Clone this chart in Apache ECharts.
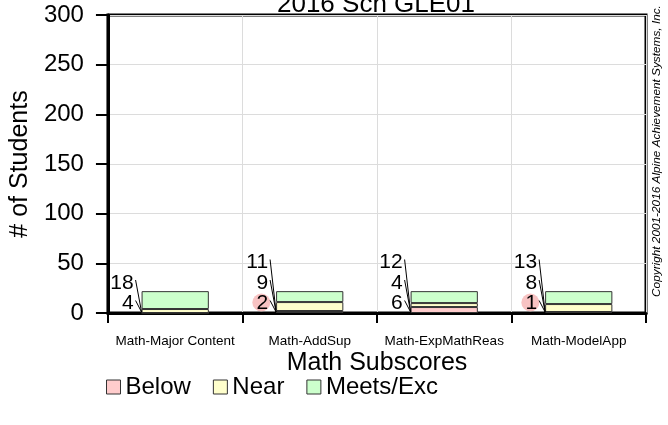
<!DOCTYPE html>
<html>
<head>
<meta charset="utf-8">
<script src="https://cdn.jsdelivr.net/npm/echarts@6/dist/echarts.min.js"></script>
<style>
  html, body { margin: 0; padding: 0; background: #fff; }
  #chart { width: 668px; height: 425px; }
</style>
</head>
<body>
<div id="chart"></div>
<script>
// Subscore categories and student counts per performance band
const categories = ['Math-Major Content', 'Math-AddSup', 'Math-ExpMathReas', 'Math-ModelApp'];
const below = [0, 2, 6, 1];
const near = [4, 9, 4, 8];
const meets = [18, 11, 12, 13];
// Categories whose "Below" count gets a highlight dot
const belowFlag = [false, true, false, true];
const yTicks = [0, 50, 100, 150, 200, 250, 300];

const FONT = 'Liberation Sans, Arial, sans-serif';
const chart = echarts.init(document.getElementById('chart'), null, { renderer: 'canvas' });

// Stacked value labels drawn to the left of each bar with leader lines
function renderLabels(params, api) {
  const i = api.value(0);
  const base = api.coord([i, 0]);
  const bandW = api.size([1, 0])[0];
  const left = base[0] - bandW * 0.25;
  const vals = [below[i], near[i], meets[i]];
  const children = [];
  let k = 0;
  vals.forEach(function (v, s) {
    if (!v) return;
    const cy = base[1] - 10.5 - 20.5 * k;
    if (s === 0 && belowFlag[i]) {
      const w = String(v).length * 11.5;
      children.push({
        type: 'circle',
        shape: { cx: left - 9 - w / 2, cy: cy, r: 9 },
        style: { fill: 'rgba(245,175,175,0.75)' }
      });
    }
    children.push({
      type: 'line',
      shape: { x1: left - 6, y1: cy - 2, x2: left, y2: base[1] - 1 },
      style: { stroke: '#000', lineWidth: 1 }
    });
    children.push({
      type: 'text',
      style: {
        text: String(v), x: left - 8, y: cy + 1,
        align: 'right', verticalAlign: 'middle',
        font: '21px ' + FONT, fill: '#000'
      }
    });
    k++;
  });
  return { type: 'group', children: children };
}

const barCommon = {
  type: 'bar', stack: 'total', barWidth: '50%',
  itemStyle: { borderColor: '#333', borderWidth: 1 },
  silent: true
};

chart.setOption({
  animation: false,
  backgroundColor: '#fff',
  grid: {
    left: 106, top: 15, width: 540, height: 298,
    show: true, borderColor: '#000', borderWidth: 3, backgroundColor: 'transparent'
  },
  legend: {
    left: 101, top: 370, icon: 'rect', itemWidth: 14, itemHeight: 14, itemGap: 22,
    textStyle: { fontFamily: FONT, fontSize: 24, color: '#000' },
    itemStyle: { borderColor: '#333', borderWidth: 1 },
    data: ['Below', 'Near', 'Meets/Exc']
  },
  xAxis: {
    type: 'category', data: categories,
    name: 'Math Subscores', nameLocation: 'middle', nameGap: 38, nameMoveOverlap: false,
    nameTextStyle: { fontFamily: FONT, fontSize: 25, color: '#000' },
    axisLine: { lineStyle: { color: '#000', width: 3 } },
    axisTick: { show: true, interval: 0, length: 10, lineStyle: { color: '#000', width: 2 } },
    axisLabel: { interval: 0, fontFamily: FONT, fontSize: 13.5, color: '#000', margin: 21 },
    splitLine: { show: true, interval: 0, lineStyle: { color: '#dcdcdc', width: 1 } }
  },
  yAxis: {
    type: 'value', min: 0, max: 300, interval: 50,
    name: '# of Students', nameLocation: 'middle', nameGap: 73,
    nameTextStyle: { fontFamily: FONT, fontSize: 25, color: '#000' },
    axisLine: { show: true, lineStyle: { color: '#000', width: 3 } },
    axisTick: { show: true, length: 12, lineStyle: { color: '#000', width: 2 } },
    axisLabel: {
      fontFamily: FONT, fontSize: 24, color: '#000', margin: 24,
      formatter: function (v) { return yTicks.indexOf(v) >= 0 ? String(v) : ''; }
    },
    splitLine: { show: true, lineStyle: { color: '#dcdcdc', width: 1 } }
  },
  graphic: [{
    // Chart title, centred over the plot area and partly clipped by the top edge
    type: 'text', x: 376, y: 17.5,
    style: {
      text: '2016 Sch GLE01', font: '26px ' + FONT, fill: '#000',
      align: 'center', verticalAlign: 'bottom'
    }
  }, {
    type: 'text', rotation: Math.PI / 2,
    x: 657, y: 151,
    style: {
      text: 'Copyright 2001-2016 Alpine Achievement Systems, Inc.',
      font: 'italic 11.8px ' + FONT, fill: '#000', align: 'center', verticalAlign: 'middle'
    }
  }],
  series: [
    Object.assign({}, barCommon, { name: 'Below', data: below, itemStyle: Object.assign({}, barCommon.itemStyle, { color: '#ffcccc' }) }),
    Object.assign({}, barCommon, { name: 'Near', data: near, itemStyle: Object.assign({}, barCommon.itemStyle, { color: '#ffffcc' }) }),
    Object.assign({}, barCommon, { name: 'Meets/Exc', data: meets, itemStyle: Object.assign({}, barCommon.itemStyle, { color: '#ccffcc' }) }),
    {
      type: 'custom', name: 'labels', renderItem: renderLabels, clip: false, silent: true,
      data: categories.map(function (c, i) { return [i]; }), z: 5
    }
  ]
});
</script>
</body>
</html>
